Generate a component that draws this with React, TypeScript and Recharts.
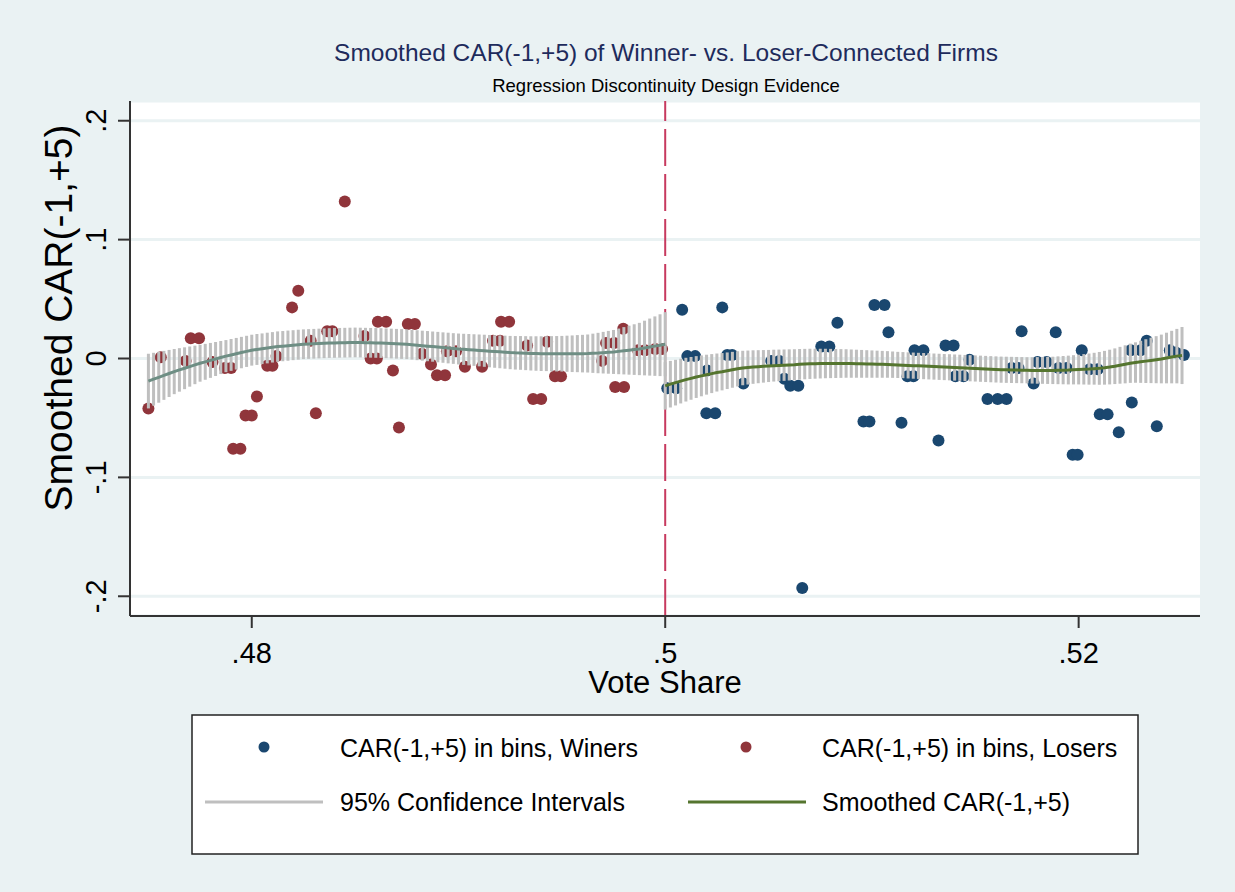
import {
  ScatterChart,
  Scatter,
  XAxis,
  YAxis,
  CartesianGrid,
  ErrorBar,
  ReferenceLine,
  Label,
} from "recharts";

// binned CAR(-1,+5), losers (left of the cutoff)
const loserShare = [
  0.475, 0.4756, 0.4768, 0.47705, 0.47745, 0.4781, 0.4787, 0.479, 0.4791,
  0.47945, 0.4797, 0.48, 0.48025, 0.48075, 0.481, 0.4812, 0.48195, 0.48225,
  0.48285, 0.4831, 0.48365, 0.4839, 0.4845, 0.48545, 0.48575, 0.48605,
  0.4861, 0.4865, 0.48683, 0.48712, 0.48755, 0.48789, 0.48823, 0.48867,
  0.48896, 0.48935, 0.48944, 0.48988, 0.49031, 0.49114, 0.49167, 0.49201,
  0.49206, 0.49245, 0.49332, 0.49361, 0.494, 0.49429, 0.49467, 0.49496,
  0.49695, 0.49714, 0.49753, 0.49758, 0.49801, 0.49797, 0.49869, 0.49903,
  0.49952, 0.49985,
];
const loserCar = [
  -0.042, 0.001, -0.002, 0.017, 0.017, -0.003, -0.008, -0.008, -0.076,
  -0.076, -0.048, -0.048, -0.032, -0.006, -0.006, 0.002, 0.043, 0.057,
  0.015, -0.046, 0.023, 0.023, 0.132, 0.019, 0.0, 0.0,
  0.031, 0.031, -0.01, -0.058, 0.029, 0.029, 0.004, -0.005,
  -0.014, -0.014, 0.006, 0.006, -0.007, -0.007, 0.015, 0.015,
  0.031, 0.031, 0.011, -0.034, -0.034, 0.014, -0.015, -0.015,
  -0.002, 0.013, 0.013, -0.024, -0.024, 0.025, 0.007, 0.007,
  0.008, 0.008,
];

// binned CAR(-1,+5), winners (right of the cutoff)
const winnerShare = [
  0.5001, 0.50053, 0.50082, 0.50107, 0.50145, 0.50203, 0.50199, 0.50242,
  0.50276, 0.503, 0.50324, 0.50378, 0.50513, 0.50552, 0.50576, 0.50605,
  0.50644, 0.50663, 0.50755, 0.50794, 0.50833, 0.50959, 0.50988, 0.51012,
  0.51061, 0.5108, 0.51143, 0.51172, 0.51201, 0.51206, 0.51249, 0.51322,
  0.51356, 0.51395, 0.51404, 0.51443, 0.51472, 0.51559, 0.51608, 0.51651,
  0.51676, 0.51709, 0.51724, 0.51782, 0.51801, 0.51845, 0.51889, 0.51903,
  0.51942, 0.51971, 0.51995, 0.52015, 0.52053, 0.52092, 0.52102, 0.5214,
  0.52194, 0.52257, 0.52252, 0.523, 0.52329, 0.52378, 0.52441, 0.5247,
  0.52509,
];
const winnerCar = [
  -0.025, -0.025, 0.041, 0.002, 0.002, -0.01, -0.046, -0.046,
  0.043, 0.003, 0.003, -0.021, -0.002, -0.002, -0.017, -0.023,
  -0.023, -0.193, 0.01, 0.01, 0.03, -0.053, -0.053, 0.045,
  0.045, 0.022, -0.054, -0.015, -0.015, 0.007, 0.007, -0.069,
  0.011, 0.011, -0.015, -0.015, -0.001, -0.034, -0.034, -0.034,
  -0.008, -0.008, 0.023, -0.021, -0.003, -0.003, 0.022, -0.008,
  -0.008, -0.081, -0.081, 0.007, -0.009, -0.009, -0.047, -0.047,
  -0.062, -0.037, 0.007, 0.007, 0.015, -0.057, 0.007, 0.005,
  0.003,
];

// smoothed fit and 95% CI half-width, one value per bin (bin width .00025)
const loserStart = 0.475;
const winnerStart = 0.5;
const binWidth = 0.00025;

const loserFit = [
  -0.019, -0.0174, -0.0158, -0.0142, -0.0126, -0.011,
  -0.0096, -0.0082, -0.0068, -0.0054, -0.004,
  -0.0028, -0.0016, -0.0004, 0.0008, 0.002,
  0.003, 0.004, 0.005, 0.006, 0.007,
  0.0076, 0.0082, 0.0088, 0.0094, 0.01,
  0.0104, 0.0108, 0.0112, 0.0116, 0.012,
  0.0122, 0.0124, 0.0126, 0.0128, 0.013,
  0.0131, 0.0132, 0.0133, 0.0134, 0.0135,
  0.0134, 0.0133, 0.0132, 0.0131, 0.013,
  0.0128, 0.0126, 0.0124, 0.0122, 0.012,
  0.0116, 0.0112, 0.0108, 0.0104, 0.01,
  0.0096, 0.0092, 0.0088, 0.0084, 0.008,
  0.0077, 0.0074, 0.0071, 0.0068, 0.0065,
  0.0062, 0.0059, 0.0056, 0.0053, 0.005,
  0.0048, 0.0047, 0.0045, 0.0043, 0.0042,
  0.0041, 0.0041, 0.004, 0.004, 0.004,
  0.004, 0.004, 0.0041, 0.0041, 0.0042,
  0.0044, 0.0046, 0.0049, 0.0052, 0.0055,
  0.006, 0.0065, 0.007, 0.0075, 0.008,
  0.0088, 0.0096, 0.0104, 0.0112, 0.012,
];
const loserHalfCI = [
  0.023, 0.0222, 0.0214, 0.0206, 0.0198, 0.019,
  0.0183, 0.0176, 0.0169, 0.0162, 0.0155,
  0.0151, 0.0147, 0.0143, 0.0139, 0.0135,
  0.0134, 0.0133, 0.0132, 0.0131, 0.013,
  0.013, 0.0129, 0.0129, 0.0128, 0.0128,
  0.0127, 0.0127, 0.0126, 0.0126, 0.0125,
  0.0125, 0.0125, 0.0125, 0.0125, 0.0125,
  0.0125, 0.0125, 0.0125, 0.0125, 0.0125,
  0.0125, 0.0125, 0.0125, 0.0125, 0.0125,
  0.0125, 0.0125, 0.0125, 0.0125, 0.0125,
  0.0125, 0.0126, 0.0126, 0.0127, 0.0127,
  0.0128, 0.0128, 0.0129, 0.0129, 0.013,
  0.0131, 0.0132, 0.0133, 0.0134, 0.0135,
  0.0136, 0.0137, 0.0138, 0.0139, 0.014,
  0.0141, 0.0142, 0.0143, 0.0144, 0.0145,
  0.0146, 0.0147, 0.0148, 0.0149, 0.015,
  0.0152, 0.0154, 0.0156, 0.0158, 0.016,
  0.0165, 0.017, 0.0175, 0.018, 0.0185,
  0.0192, 0.0199, 0.0206, 0.0213, 0.022,
  0.023, 0.024, 0.025, 0.026, 0.027,
];
const winnerFit = [
  -0.023, -0.0216, -0.0203, -0.019, -0.0178, -0.0167,
  -0.0156, -0.0146, -0.0136, -0.0127, -0.0118,
  -0.0111, -0.0103, -0.0095, -0.0087, -0.008,
  -0.0076, -0.0072, -0.0069, -0.0066, -0.0063,
  -0.006, -0.0058, -0.0056, -0.0054, -0.0052,
  -0.0049, -0.0047, -0.0045, -0.0044, -0.0043,
  -0.0042, -0.0042, -0.0042, -0.0042, -0.0042,
  -0.0043, -0.0044, -0.0045, -0.0046, -0.0047,
  -0.0048, -0.0049, -0.005, -0.0052, -0.0054,
  -0.0056, -0.0058, -0.006, -0.0062, -0.0064,
  -0.0066, -0.0068, -0.007, -0.0072, -0.0074,
  -0.0076, -0.0078, -0.008, -0.0082, -0.0084,
  -0.0086, -0.0088, -0.009, -0.0092, -0.0094,
  -0.0095, -0.0096, -0.0097, -0.0098, -0.0099,
  -0.01, -0.01, -0.01, -0.01, -0.01,
  -0.0099, -0.0098, -0.0097, -0.0095, -0.0093,
  -0.0091, -0.0089, -0.0086, -0.0083, -0.0078,
  -0.0072, -0.0065, -0.0057, -0.0049, -0.004,
  -0.0034, -0.0028, -0.0022, -0.0016, -0.001,
  -0.0004, 0.0004, 0.0012, 0.002, 0.0025,
];
const winnerHalfCI = [
  0.02, 0.0196, 0.0192, 0.0188, 0.0184, 0.018,
  0.0176, 0.0172, 0.0168, 0.0164, 0.016,
  0.0157, 0.0154, 0.0151, 0.0148, 0.0145,
  0.0143, 0.0141, 0.0139, 0.0137, 0.0135,
  0.0134, 0.0133, 0.0132, 0.0131, 0.013,
  0.0129, 0.0128, 0.0127, 0.0126, 0.0125,
  0.0124, 0.0123, 0.0122, 0.0121, 0.012,
  0.0119, 0.0118, 0.0117, 0.0116, 0.0115,
  0.0114, 0.0113, 0.0112, 0.0111, 0.011,
  0.011, 0.011, 0.011, 0.011, 0.011,
  0.011, 0.011, 0.011, 0.011, 0.011,
  0.011, 0.011, 0.011, 0.011, 0.011,
  0.011, 0.011, 0.011, 0.011, 0.011,
  0.011, 0.011, 0.011, 0.011, 0.011,
  0.0111, 0.0112, 0.0113, 0.0114, 0.0115,
  0.0117, 0.0119, 0.0121, 0.0123, 0.0125,
  0.0128, 0.0131, 0.0134, 0.0138, 0.0142,
  0.0146, 0.015, 0.0155, 0.016, 0.0165,
  0.017, 0.0177, 0.0184, 0.0191, 0.0198,
  0.0205, 0.0213, 0.0221, 0.0229, 0.024,
];

const xTicks = [0.48, 0.5, 0.52];
const yTicks = [-0.2, -0.1, 0, 0.1, 0.2];

const FONT = "'Liberation Sans', Arial, sans-serif";
const NAVY = "#1a476f";
const MAROON = "#90353b";
const TEAL = "#6e8e84";
const FOREST = "#55752f";
const SPIKE = "#bfbfbf";
const BG = "#eaf2f3";

const loserDots = loserShare.map((x, i) => ({ x, y: loserCar[i] }));
const winnerDots = winnerShare.map((x, i) => ({ x, y: winnerCar[i] }));
const loserBand = loserFit.map((y, i) => ({
  x: loserStart + i * binWidth,
  y,
  err: loserHalfCI[i],
}));
const winnerBand = winnerFit.map((y, i) => ({
  x: winnerStart + i * binWidth,
  y,
  err: winnerHalfCI[i],
}));

// stata style: ".48", "-.1"
const fmt = (v: number) =>
  String(v).replace(/^0\./, ".").replace(/^-0\./, "-.");

const XTick = ({ x, y, payload }: any) => (
  <text x={x} y={y + 21} textAnchor="middle" fontSize={29} fontFamily={FONT} fill="#000">
    {fmt(payload.value)}
  </text>
);

const YTick = ({ x, y, payload }: any) => (
  <text
    x={x}
    y={y}
    transform={`rotate(-90 ${x} ${y})`}
    textAnchor="middle"
    fontSize={29}
    fontFamily={FONT}
    fill="#000"
  >
    {fmt(payload.value)}
  </text>
);

const dot = (color: string) => (p: any) =>
  <circle cx={p.cx} cy={p.cy} r={6} fill={color} />;
const noShape = () => <g />;

export default function App() {
  return (
    <div
      style={{
        position: "absolute",
        left: 0,
        top: 0,
        width: 1235,
        height: 892,
        background: BG,
        overflow: "hidden",
      }}
    >
      <ScatterChart
        width={1235}
        height={892}
        margin={{ top: 101, right: 35, left: 70, bottom: 216 }}
      >
        <CartesianGrid
          vertical={false}
          fill="#ffffff"
          stroke={BG}
          strokeWidth={3}
        />
        <XAxis
          type="number"
          dataKey="x"
          domain={[0.47411, 0.52587]}
          allowDataOverflow
          ticks={xTicks}
          height={60}
          tickSize={12}
          tickMargin={14}
          tick={<XTick />}
          axisLine={{ stroke: "#333", strokeWidth: 2 }}
          tickLine={{ stroke: "#333", strokeWidth: 2 }}
        >
          <Label
            content={({ viewBox }: any) => (
              <text
                x={viewBox.x + viewBox.width / 2}
                y={693}
                textAnchor="middle"
                fontSize={31}
                fontFamily={FONT}
                fill="#000"
              >
                Vote Share
              </text>
            )}
          />
        </XAxis>
        <YAxis
          type="number"
          dataKey="y"
          domain={[-0.2166, 0.2166]}
          allowDataOverflow
          ticks={yTicks}
          width={60}
          tickSize={12}
          tickMargin={12}
          tick={<YTick />}
          axisLine={{ stroke: "#333", strokeWidth: 2 }}
          tickLine={{ stroke: "#333", strokeWidth: 2 }}
        >
          <Label
            content={() => (
              <text
                x={72}
                y={318}
                transform="rotate(-90 72 318)"
                textAnchor="middle"
                fontSize={39}
                fontFamily={FONT}
                fill="#000"
              >
                Smoothed CAR(-1,+5)
              </text>
            )}
          />
        </YAxis>
        <ReferenceLine
          x={0.5}
          stroke="#c73a5f"
          strokeWidth={2}
          strokeDasharray="37 8"
        />
        <Scatter data={loserDots} shape={dot(MAROON)} zIndex={100} isAnimationActive={false} />
        <Scatter data={winnerDots} shape={dot(NAVY)} zIndex={100} isAnimationActive={false} />
        <Scatter data={loserBand} shape={noShape} isAnimationActive={false}>
          <ErrorBar
            dataKey="err"
            direction="y"
            width={0}
            stroke={SPIKE}
            strokeWidth={3}
            isAnimationActive={false}
          />
        </Scatter>
        <Scatter data={winnerBand} shape={noShape} isAnimationActive={false}>
          <ErrorBar
            dataKey="err"
            direction="y"
            width={0}
            stroke={SPIKE}
            strokeWidth={3}
            isAnimationActive={false}
          />
        </Scatter>
        <Scatter
          data={loserBand}
          shape={noShape}
          line={{ stroke: TEAL, strokeWidth: 3 }}
          isAnimationActive={false}
        />
        <Scatter
          data={winnerBand}
          shape={noShape}
          line={{ stroke: FOREST, strokeWidth: 3 }}
          isAnimationActive={false}
        />
      </ScatterChart>

      <svg
        width={1235}
        height={892}
        style={{ position: "absolute", left: 0, top: 0, pointerEvents: "none" }}
      >
        <text x={666} y={61} textAnchor="middle" fontSize={24.5} fontFamily={FONT} fill="#1e2b5c">
          Smoothed CAR(-1,+5) of Winner- vs. Loser-Connected Firms
        </text>
        <text x={666} y={92} textAnchor="middle" fontSize={18.5} fontFamily={FONT} fill="#000">
          Regression Discontinuity Design Evidence
        </text>

        <rect x={192} y={715} width={946} height={139} fill="#fff" stroke="#222" strokeWidth={1.5} />
        <circle cx={264} cy={747} r={5.5} fill={NAVY} />
        <text x={340} y={757} fontSize={25} fontFamily={FONT} fill="#000">
          CAR(-1,+5) in bins, Winers
        </text>
        <circle cx={746} cy={747} r={5.5} fill={MAROON} />
        <text x={822} y={757} fontSize={25} fontFamily={FONT} fill="#000">
          CAR(-1,+5) in bins, Losers
        </text>
        <line x1={205} x2={323} y1={802} y2={802} stroke={SPIKE} strokeWidth={3} />
        <text x={340} y={811} fontSize={25} fontFamily={FONT} fill="#000">
          95% Confidence Intervals
        </text>
        <line x1={688} x2={806} y1={802} y2={802} stroke={FOREST} strokeWidth={3} />
        <text x={822} y={811} fontSize={25} fontFamily={FONT} fill="#000">
          Smoothed CAR(-1,+5)
        </text>
      </svg>
    </div>
  );
}
